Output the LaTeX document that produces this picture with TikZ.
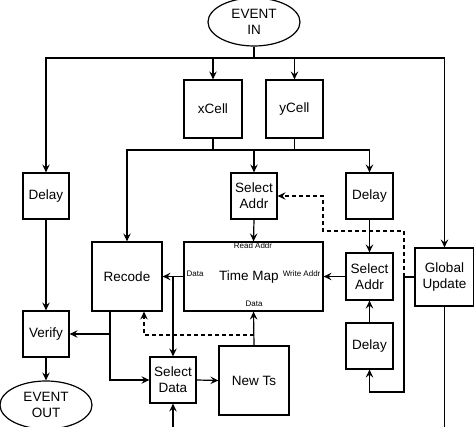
\documentclass[tikz,border=0pt]{standalone}
\usepackage{fontspec}
\setmainfont{Liberation Sans}
\usetikzlibrary{shapes.geometric}
\usetikzlibrary{calc}
\usetikzlibrary{arrows.meta}

\begin{document}
\begin{tikzpicture}[x=1pt,y=-1pt,line width=1.2pt,
  >={Stealth[length=8pt,width=7.5pt,inset=3pt]},
  blk/.style={draw,rectangle,inner sep=0pt,font=\fontsize{13.5}{16}\selectfont,align=center},
  evt/.style={draw,ellipse,inner sep=0pt,minimum width=92pt,minimum height=48pt,font=\fontsize{13.5}{16}\selectfont,align=center},
  port/.style={font=\fontsize{8}{9}\selectfont,inner sep=0pt},
  dsh/.style={dash pattern=on 4pt off 3pt}]
  \useasboundingbox (0,0) rectangle (474,427);
  \node [evt] (evin) at (254,22) {EVENT\\IN};
  \node [evt] (evout) at (46,405) {EVENT\\OUT};
  \node [blk,minimum width=58pt,minimum height=58pt] (xcell) at (213,109) {xCell};
  \node [blk,minimum width=57pt,minimum height=58pt] (ycell) at (294.5,109) {yCell};
  \node [blk,minimum width=46pt,minimum height=46pt] (seladdrA) at (254,196) {Select\\Addr};
  \node [blk,minimum width=47pt,minimum height=46pt] (delayR) at (369.5,196) {Delay};
  \node [blk,minimum width=46pt,minimum height=46pt] (delayL) at (46,196) {Delay};
  \node [blk,minimum width=70pt,minimum height=69pt] (recode) at (127,276.5) {Recode};
  \node [blk,minimum width=139pt,minimum height=69pt] (timemap) at (253.5,276.5) {};
  \node [blk,minimum width=47pt,minimum height=47pt] (seladdrB) at (369.5,276.5) {Select\\Addr};
  \node [blk,minimum width=59pt,minimum height=58pt] (global) at (444.5,277) {Global\\Update};
  \node [blk,minimum width=46pt,minimum height=46pt] (verify) at (46,334) {Verify};
  \node [blk,minimum width=46pt,minimum height=46pt] (seldata) at (173,380) {Select\\Data};
  \node [blk,minimum width=70pt,minimum height=69pt] (newts) at (254,380.5) {New Ts};
  \node [blk,minimum width=47pt,minimum height=46pt] (delayB) at (369.5,346) {Delay};
  \node [font=\fontsize{13.5}{16}\selectfont] (tmlabel) at (249,277) {Time Map};
  \node [port] (readaddr) at (253,246) {Read Addr};
  \node [port,anchor=west] (datain) at (186,274) {Data};
  \node [port,anchor=east] (writeaddr) at (321,274) {Write Addr};
  \node [port] (dataout) at (254,304) {Data};
  \coordinate (tj) at (254,58);
  \coordinate (mj) at (254,150);
  \coordinate (dj) at (173,276.5);
  \coordinate (rb) at ($(recode.south)+(-17,0)$);
  \coordinate (rd) at ($(recode.south)+(17,0)$);
  \coordinate (vj) at (110,334);
  \coordinate (nj) at (254,335);
  \coordinate (gj) at (404,277);
  \coordinate (gb) at (404,392);
  \coordinate (gout) at (444.5,430);
  \coordinate (sdin) at (173,430);
  \draw (evin) -- (tj);
  \draw [->] (tj) -| (delayL.north);
  \draw [->] (tj) -| (global.north);
  \draw [->] (tj) -| (xcell.north);
  \draw [->] (tj) -| (ycell.north);
  \draw (xcell.south) -- (xcell.south |- mj);
  \draw (ycell.south) -- (ycell.south |- mj);
  \draw [->] (mj) -- (seladdrA.north);
  \draw [->] (mj) -| (recode.north);
  \draw [->] (mj) -| (delayR.north);
  \draw [->] (seladdrA.south) -- (timemap.north);
  \draw [->] (delayR.south) -- (seladdrB.north);
  \draw [->] (seladdrB.west) -- (timemap.east);
  \draw [->] (timemap.west) -- (recode.east);
  \draw [->] (dj) -- (seldata.north);
  \draw [->] (delayL.south) -- (verify.north);
  \draw [->] (verify.south) -- (evout.north);
  \draw [->] (rb) |- (seldata.west);
  \draw [->] (vj) -- (verify.east);
  \draw [->] (seldata.east) -- (newts.west);
  \draw [->] (newts.north) -- (timemap.south);
  \draw [dsh,->] (nj) -| (rd);
  \draw [->] (global.west) -- (gj) -- (gb) -| (delayB.south);
  \draw [dsh,->] (gj) |- (323,231) |- (seladdrA.east);
  \draw [->] (delayB.north) -- (seladdrB.south);
  \draw (global.south) -- (gout);
  \draw [->] (sdin) -- (seldata.south);
\end{tikzpicture}
\end{document}
